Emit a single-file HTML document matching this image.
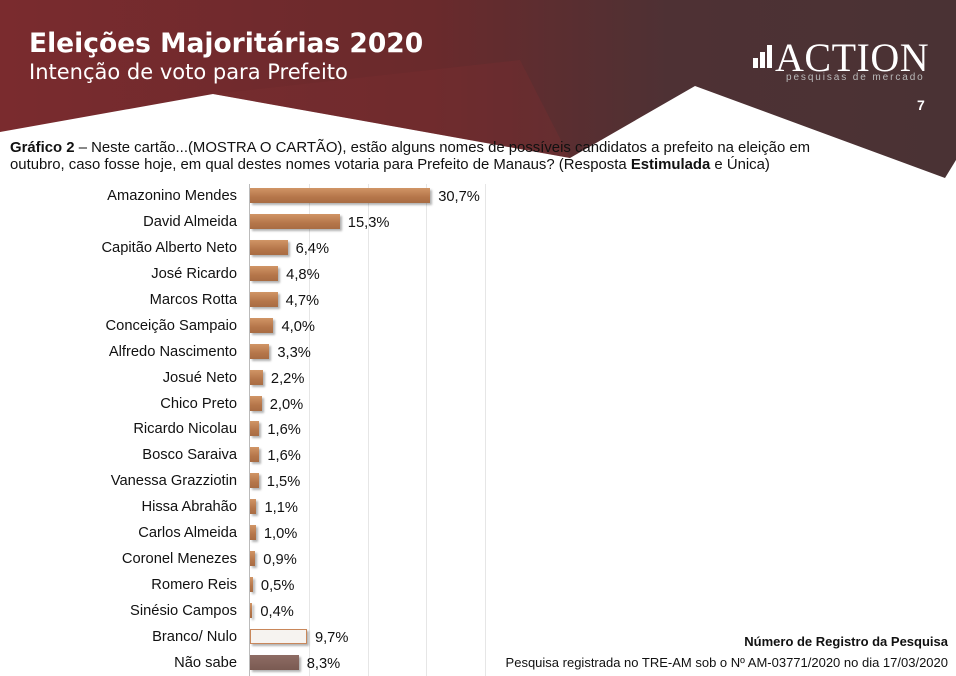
<!DOCTYPE html>
<html><head><meta charset="utf-8">
<style>
body{margin:0;width:956px;height:676px;overflow:hidden;background:#fff;font-family:"Liberation Sans",Arial,sans-serif;position:relative}
.abs{position:absolute}
.lab{position:absolute;right:719px;font-size:14.7px;color:#111;white-space:nowrap;line-height:16px}
.bar{position:absolute;left:250px;height:15px;background:linear-gradient(#d09566,#b5764a 60%,#a86c43);box-shadow:2px 2px 2px rgba(0,0,0,.3)}
.val{position:absolute;font-size:14.7px;color:#111;line-height:16px;white-space:nowrap}
.grid{position:absolute;top:184px;width:1px;height:492px;background:#e6e6e6}
</style></head><body>
<svg class="abs" style="left:0;top:0" width="956" height="180">
<defs><linearGradient id="g" x1="0" x2="1" y1="0" y2="0">
<stop offset="0" stop-color="#7a2b2e"/><stop offset="0.45" stop-color="#6a2a2c"/><stop offset="0.7" stop-color="#4e3134"/><stop offset="1" stop-color="#4a3234"/></linearGradient></defs>
<polygon points="0,0 956,0 956,160 945,178 695,86 570,158 213,94 0,132" fill="url(#g)"/>
<polygon points="213,94 570,158 520,60" fill="#7a2e30" opacity="0.35"/>
</svg>
<div class="abs" style="left:29px;top:28px;font-family:'DejaVu Sans',sans-serif;font-weight:bold;font-size:26.5px;color:#fff;white-space:nowrap">Eleições Majoritárias 2020</div>
<div class="abs" style="left:29px;top:60px;font-family:'DejaVu Sans',sans-serif;font-size:21px;color:#fff;white-space:nowrap">Intenção de voto para Prefeito</div>
<div class="abs" style="left:753px;top:58px;width:5px;height:10px;background:#fff"></div>
<div class="abs" style="left:760px;top:52px;width:5px;height:16px;background:#fff"></div>
<div class="abs" style="left:767px;top:45px;width:5px;height:23px;background:#fff"></div>
<div class="abs" style="left:775px;top:34px;font-family:'Liberation Serif',serif;font-size:40px;color:#fff;letter-spacing:0.5px;white-space:nowrap">ACTION</div>
<div class="abs" style="left:786px;top:72px;font-size:10px;color:#bbb;letter-spacing:1.9px;white-space:nowrap">pesquisas de mercado</div>
<div class="abs" style="left:917px;top:97px;font-size:14px;font-weight:bold;color:#fff">7</div>
<div class="abs" style="left:10px;top:140px;font-size:14.9px;line-height:17px;color:#111;width:940px;white-space:nowrap">
<b>Gráfico 2</b> – Neste cartão...(MOSTRA O CARTÃO), estão alguns nomes de possíveis candidatos a prefeito na eleição em<br>outubro, caso fosse hoje, em qual destes nomes votaria para Prefeito de Manaus? (Resposta <b>Estimulada</b> e Única)</div>
<div class="grid" style="left:309px"></div><div class="grid" style="left:368px"></div><div class="grid" style="left:426px"></div><div class="grid" style="left:485px"></div>
<div class="abs" style="left:249px;top:184px;width:1px;height:492px;background:#bbb"></div>
<div id="c"></div>
<div class="abs" style="right:8px;top:634px;font-size:13px;font-weight:bold;color:#111">Número de Registro da Pesquisa</div>
<div class="abs" style="right:8px;top:655px;font-size:13px;color:#111">Pesquisa registrada no TRE-AM sob o Nº AM-03771/2020 no dia 17/03/2020</div>
<script>
var d=[["Amazonino Mendes",30.7],["David Almeida",15.3],["Capitão Alberto Neto",6.4],["José Ricardo",4.8],["Marcos Rotta",4.7],["Conceição Sampaio",4.0],["Alfredo Nascimento",3.3],["Josué Neto",2.2],["Chico Preto",2.0],["Ricardo Nicolau",1.6],["Bosco Saraiva",1.6],["Vanessa Grazziotin",1.5],["Hissa Abrahão",1.1],["Carlos Almeida",1.0],["Coronel Menezes",0.9],["Romero Reis",0.5],["Sinésio Campos",0.4],["Branco/ Nulo",9.7],["Não sabe",8.3]];
var h="";
d.forEach(function(r,i){var y=195+i*25.94;var w=r[1]*5.87;
var st="";if(i==17)st="background:#f6f3f0;border:1px solid #c9875a;box-sizing:border-box;";if(i==18)st="background:linear-gradient(#8e6c64,#7a5a52);";
h+='<div class="lab" style="top:'+(y-7)+'px">'+r[0]+'</div>';
h+='<div class="bar" style="top:'+(y-7)+'px;width:'+w+'px;'+st+'"></div>';
h+='<div class="val" style="top:'+(y-6)+'px;left:'+(250+w+8)+'px">'+r[1].toFixed(1).replace(".",",")+'%</div>';});
document.getElementById("c").innerHTML=h;
</script>
</body></html>
